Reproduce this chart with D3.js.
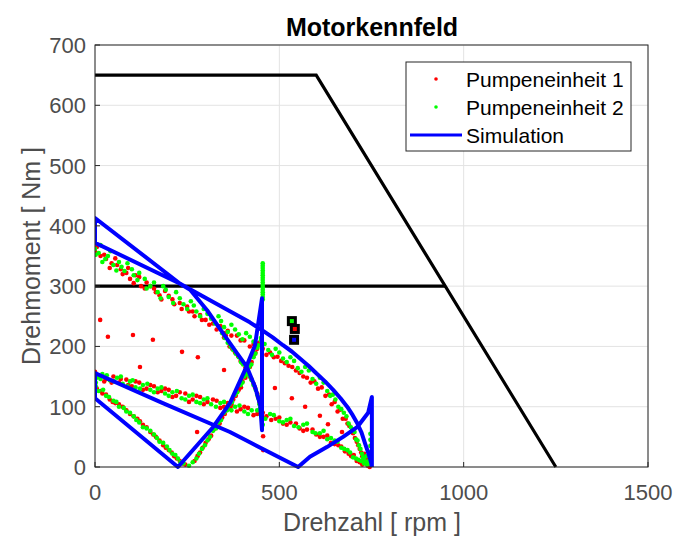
<!DOCTYPE html>
<html><head><meta charset="utf-8">
<script src="https://cdn.jsdelivr.net/npm/d3@7/dist/d3.min.js"></script>
<style>body{margin:0;background:#fff;}svg{display:block;font-family:"Liberation Sans",Arial,Helvetica,sans-serif;}</style>
</head><body>
<svg id="c" width="678" height="540"></svg>
<script>
const title = "Motorkennfeld";
const xLabel = "Drehzahl [ rpm ]";
const yLabel = "Drehmoment [ Nm ]";
const xTicks = [0, 500, 1000, 1500];
const yTicks = [0, 100, 200, 300, 400, 500, 600, 700];
const legendLabels = ["Pumpeneinheit 1", "Pumpeneinheit 2", "Simulation"];

// Motor limit curves [rpm, Nm]
const limitHigh = [[0,650],[600,650],[1250,0]];
const limitLow = [[0,300],[950,300]];

// Pumpeneinheit 1 (red)
const pump1 = [
 [0,358],[15,350],[30,345],[45,338],[55,346],[70,328],[85,322],[95,312],[110,318],[125,300],[140,306],[160,296],[175,285],[190,292],[210,278],[230,272],[250,266],[265,258],[285,252],[300,244],[320,238],[340,234],[360,226],[385,218],[405,210],[430,204],[455,196],[475,190],[495,183],[515,172],[535,166],[555,156],[575,148],[595,142],[615,132],[635,120],[650,108],[665,95],[680,80],[690,68],[700,56],[710,42],[718,30],[725,18],[735,6],[745,0],
 [5,365],[25,352],[40,330],[60,335],[75,320],[90,330],[105,305],[120,315],[135,296],[150,300],[165,290],[180,278],[200,284],[215,270],[235,262],[255,258],[270,250],[290,244],[310,236],[330,228],[350,222],[370,218],[395,210],[420,200],[440,196],[465,186],[485,182],[505,176],[525,168],[545,160],[565,150],[585,140],[605,130],[625,118],[642,104],[658,92],[672,80],[685,72],[695,58],[705,48],[714,36],[722,24],[730,10],
 [0,158],[12,150],[30,146],[50,150],[65,140],[85,145],[100,134],[120,140],[140,130],[160,134],[180,126],[200,128],[220,118],[245,122],[265,112],[285,116],[305,108],[330,110],[350,100],[370,104],[395,96],[415,98],[440,88],[465,84],[490,80],[510,72],[530,74],[555,64],[575,62],[600,54],[620,50],[640,40],[660,36],[678,26],[695,18],[710,10],[725,4],
 [8,152],[25,142],[45,140],[70,146],[90,136],[110,142],[130,128],[150,136],[170,124],[190,130],[210,116],[230,124],[255,108],[275,118],[295,104],[320,112],[340,98],[360,106],[385,92],[405,100],[430,86],[455,90],[478,78],[500,82],[520,70],[545,72],[565,60],[590,62],[610,50],[630,52],[650,38],[668,34],[688,22],[702,20],[718,8],
 [5,130],[20,122],[40,112],[55,106],[75,100],[95,88],[115,80],[130,70],[150,58],[165,50],[185,36],[200,28],[215,18],[230,10],[245,4],
 [0,138],[15,126],[30,120],[48,108],[65,104],[85,94],[105,84],[122,76],[140,66],[158,54],[175,44],[192,32],[208,24],[222,14],[238,6],
 [270,10],[285,24],[300,40],[315,52],[330,66],[345,82],[360,96],[375,112],[390,128],[400,142],[412,158],[425,174],[435,190],[445,206],
 [278,18],[292,32],[308,46],[322,62],[338,72],[352,88],[368,100],[382,118],[396,132],[408,148],[420,166],[430,184],
 [350,215],[365,200],[380,190],[395,176],[408,165],[420,150],[430,138],[440,122],[446,108],[450,92],
 [355,218],[372,196],[388,184],[400,172],[414,158],[424,146],[434,132],[442,116],
 [14,244],[35,216],[103,219],[157,211],[122,166],[236,191],[279,182],[350,161],[488,131],[534,114],[570,100],[610,85],[632,71],[670,58],[456,51],[456,28],[277,58],
 [740,2],[745,8],[738,14],[730,22]
];
// Pumpeneinheit 2 (green)
const pump2 = [
 [0,362],[10,355],[20,340],[35,350],[50,335],[65,340],[80,325],[100,328],[115,310],[135,312],[150,300],[170,290],[185,300],[200,282],[220,290],[240,270],[260,275],[275,258],[295,262],[315,246],[335,250],[350,232],[370,236],[390,220],[410,222],[430,208],[450,210],[470,194],[490,196],[510,180],[530,182],[550,164],[570,166],[590,146],[610,148],[630,126],[645,120],[660,100],[675,90],[688,72],[698,62],[708,46],[716,36],[724,22],[730,12],[738,4],
 [2,352],[15,368],[28,345],[42,358],[58,326],[72,332],[88,338],[105,318],[120,322],[140,296],[160,306],[178,280],[192,294],[212,272],[230,280],[250,262],[268,268],[285,250],[305,254],[325,238],[342,242],[360,224],[380,228],[400,212],[420,216],[440,200],[460,204],[480,186],[500,190],[520,174],[540,176],[560,158],[580,160],[600,138],[620,140],[638,118],[652,112],[668,96],[682,84],[694,66],[704,58],[712,44],[720,30],[727,16],[734,8],
 [5,148],[20,154],[40,144],[60,148],[75,138],[95,142],[110,132],[130,136],[150,128],[170,130],[190,122],[210,124],[235,114],[255,118],[275,108],[295,112],[315,104],[340,106],[360,98],[380,100],[405,92],[425,94],[450,86],[475,88],[500,76],[520,78],[540,68],[565,70],[590,58],[610,56],[630,46],[650,44],[668,32],[685,28],[700,16],[715,12],[730,6],
 [2,140],[15,146],[32,152],[52,142],[70,150],[88,134],[102,144],[122,130],[142,138],[160,124],[180,132],[200,118],[222,126],[245,112],[265,120],[285,106],[305,114],[328,100],[350,108],[370,94],[392,102],[415,88],[440,94],[462,80],[485,86],[510,74],[530,80],[552,66],[575,72],[598,56],[620,60],[640,48],[658,42],[676,30],[692,24],[708,14],[722,10],
 [10,126],[30,118],[50,110],[65,100],[85,92],[105,84],[120,74],[140,64],[160,54],[175,42],[195,34],[210,22],[225,14],[240,6],[255,2],
 [2,134],[22,128],[38,116],[58,108],[78,98],[95,90],[112,78],[130,66],[150,60],[168,48],[185,40],[202,28],[218,20],[232,8],
 [275,14],[290,30],[305,44],[320,60],[335,74],[350,90],[365,104],[380,120],[395,136],[405,150],[418,166],[430,182],[440,198],[450,214],
 [265,8],[282,22],[298,36],[312,50],[328,64],[342,78],[358,94],[372,108],[386,124],[400,140],[412,154],[424,170],[435,188],[444,202],
 [345,222],[360,206],[375,194],[390,182],[402,170],[415,156],[425,144],[436,128],[443,114],[448,98],[452,84],[455,70],
 [352,214],[368,200],[382,188],[396,174],[410,160],[420,150],[430,136],[440,120],[446,104],
 [455,338],[455,334],[455,330],[455,326],[455,322],[455,318],[455,314],[455,310],[455,306],[455,302],[455,298],[455,294],[455,290],[455,286],[455,282],[455,278],
 [747,5],[747,15],[747,25],[747,35],[747,45],[747,55],[742,10],[736,18]
];
// Simulation trajectory [rpm, Nm]
const simulation = [
 [751,0],[751,116],[741,90],[711,66],[673,50],[629,33],[583,17],[551,0],[420,41],[366,58],[184,106],[0,156],[0,114],[225,0],[320,66],[366,106],[407,161],[434,202],[453,280],[453,61],[448,103],[434,133],[412,166],[385,189],[347,222],[304,260],[258,294],[231,304],[0,413],[0,372],[231,304],[420,240],[453,227],[482,215],[510,202],[533,192],[556,180],[579,168],[601,155],[624,142],[646,128],[666,114],[684,100],[699,86],[711,73],[723,57],[732,40],[742,22],[749,7],[751,0]
];
// Operating points
const markers = [
 {rpm:534, nm:242, color:"#00ff00"},
 {rpm:542, nm:229, color:"#ff0000"},
 {rpm:540, nm:211, color:"#0000ff"}
];

const svg = d3.select("#c");
const L = 95, R = 648, T = 45, B = 467;
const x = d3.scaleLinear().domain([0,1500]).range([L,R]);
const y = d3.scaleLinear().domain([0,700]).range([B,T]);
const axisCol = "#262626", tickCol = "#4d4d4d";

// grid
svg.append("g").selectAll("line").data(xTicks).join("line")
 .attr("x1",d=>x(d)).attr("x2",d=>x(d)).attr("y1",T).attr("y2",B)
 .attr("stroke","#e3e3e3").attr("stroke-width",1);
svg.append("g").selectAll("line").data(yTicks).join("line")
 .attr("x1",L).attr("x2",R).attr("y1",d=>y(d)).attr("y2",d=>y(d))
 .attr("stroke","#e3e3e3").attr("stroke-width",1);

const clip = svg.append("clipPath").attr("id","clp").append("rect")
 .attr("x",L).attr("y",T-3).attr("width",R-L).attr("height",B-T+6);
const plot = svg.append("g").attr("clip-path","url(#clp)");

const line = d3.line().x(d=>x(d[0])).y(d=>y(d[1]));
[limitHigh, limitLow].forEach(l=>{
 plot.append("path").attr("d",line(l)).attr("fill","none")
  .attr("stroke","#000").attr("stroke-width",3.2);
});

plot.append("g").selectAll("circle").data(pump1).join("circle")
 .attr("cx",d=>x(d[0])).attr("cy",d=>y(d[1])).attr("r",2.3).attr("fill","#ff0000");
plot.append("g").selectAll("circle").data(pump2).join("circle")
 .attr("cx",d=>x(d[0])).attr("cy",d=>y(d[1])).attr("r",2.3).attr("fill","#00ff00");

plot.append("path").attr("d",line(simulation)).attr("fill","none")
 .attr("stroke","#0000ff").attr("stroke-width",4).attr("stroke-linejoin","round");

svg.append("g").selectAll("rect").data(markers).join("rect")
 .attr("x",d=>x(d.rpm)-3.5).attr("y",d=>y(d.nm)-3.5).attr("width",7).attr("height",7)
 .attr("fill",d=>d.color).attr("stroke","#000").attr("stroke-width",3);

// axes box
svg.append("rect").attr("x",L).attr("y",T).attr("width",R-L).attr("height",B-T)
 .attr("fill","none").attr("stroke",axisCol).attr("stroke-width",1);
// ticks (inside)
svg.append("g").selectAll("line").data(xTicks).join("line")
 .attr("x1",d=>x(d)).attr("x2",d=>x(d)).attr("y1",B).attr("y2",B-5).attr("stroke",axisCol);
svg.append("g").selectAll("line").data(yTicks).join("line")
 .attr("x1",L).attr("x2",L+5).attr("y1",d=>y(d)).attr("y2",d=>y(d)).attr("stroke",axisCol);

svg.append("g").selectAll("text").data(xTicks).join("text")
 .attr("x",d=>x(d)).attr("y",500).attr("text-anchor","middle")
 .attr("font-size",22).attr("fill",tickCol).text(d=>d);
svg.append("g").selectAll("text").data(yTicks).join("text")
 .attr("x",L-9).attr("y",d=>y(d)+8).attr("text-anchor","end")
 .attr("font-size",22).attr("fill",tickCol).text(d=>d);

svg.append("text").attr("x",372).attr("y",36).attr("text-anchor","middle")
 .attr("font-size",25).attr("font-weight","bold").attr("fill","#000").text(title);
svg.append("text").attr("x",372).attr("y",531).attr("text-anchor","middle")
 .attr("font-size",25).attr("fill",tickCol).text(xLabel);
svg.append("text").attr("transform",`translate(40,${(T+B)/2}) rotate(-90)`).attr("text-anchor","middle")
 .attr("font-size",25).attr("fill",tickCol).text(yLabel);

// legend
const lg = svg.append("g");
lg.append("rect").attr("x",406).attr("y",62).attr("width",225).attr("height",89)
 .attr("fill","#fff").attr("stroke",axisCol).attr("stroke-width",1);
const ly = [79,107,135];
lg.append("circle").attr("cx",436).attr("cy",ly[0]).attr("r",1.8).attr("fill","#ff0000");
lg.append("circle").attr("cx",436).attr("cy",ly[1]).attr("r",1.8).attr("fill","#00ff00");
lg.append("line").attr("x1",410).attr("x2",462).attr("y1",ly[2]).attr("y2",ly[2])
 .attr("stroke","#0000ff").attr("stroke-width",3);
lg.selectAll("text").data(legendLabels).join("text")
 .attr("x",466).attr("y",(d,i)=>ly[i]+7.5).attr("font-size",21).attr("fill","#000").text(d=>d);
</script>
</body></html>
